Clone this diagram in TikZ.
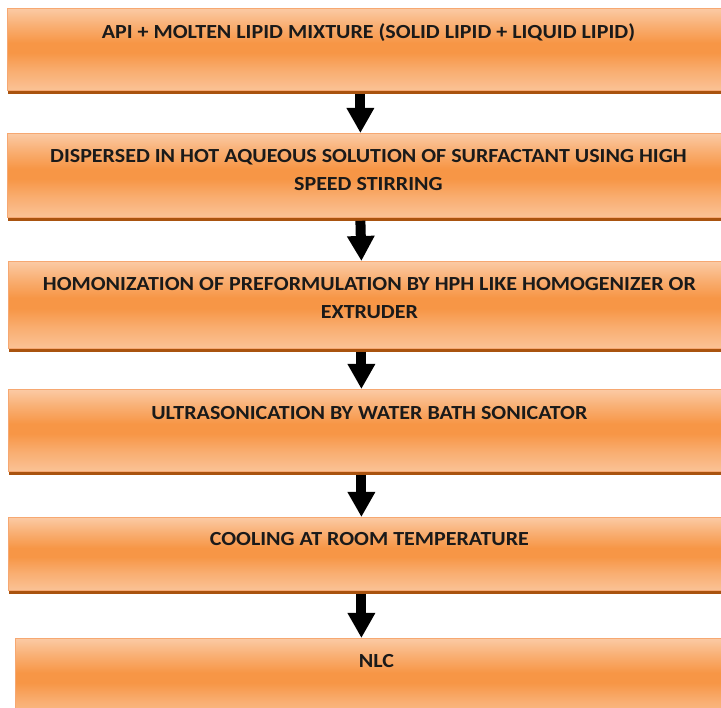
\documentclass[tikz,border=0pt]{standalone}
\usepackage{fontspec}
\setmainfont{Carlito}
\newfontfamily\boxfont[FakeStretch=1.1]{Carlito}
\usetikzlibrary{arrows.meta,calc}
\definecolor{orgdark}{HTML}{F79646}
\definecolor{orglight}{HTML}{FBCAA4}
\definecolor{orgedge}{HTML}{F6A872}
\definecolor{orgshadow}{HTML}{A9530F}
\definecolor{txt}{HTML}{1A1A1A}
\pgfdeclareverticalshading{boxshade}{100bp}{color(0bp)=(orglight); color(25bp)=(orglight!85!orgdark); color(37bp)=(orglight!45!orgdark); color(48bp)=(orgdark); color(54bp)=(orgdark); color(64bp)=(orglight!45!orgdark); color(75bp)=(orglight); color(100bp)=(orglight)}
\begin{document}
\begin{tikzpicture}[x=1pt,y=-1pt,
  box/.style={draw=orgedge, line width=0.8pt, shading=boxshade, rectangle, inner sep=0pt, anchor=north west, minimum width=722pt},
  lbl/.style={text=txt, font=\boxfont\fontsize{20}{28}\selectfont\bfseries, align=center, anchor=base, inner sep=0pt},
  blk/.style={draw=black, line width=10pt, -{Triangle[width=26pt,length=25pt]}}]
\useasboundingbox (0,0) rectangle (721,708);
\clip (0,0) rectangle (721,708);
\node[box, minimum height=82pt] (b1) at (7,8) {};
\node[box, minimum height=84pt] (b2) at (7,133) {};
\node[box, minimum height=87pt] (b3) at (8,261) {};
\node[box, minimum height=82pt] (b4) at (8,389) {};
\node[box, minimum height=73pt] (b5) at (8,517) {};
\node[box, minimum height=82pt] (b6) at (15,638) {};
\foreach \b in {b1,b2,b3,b4,b5}{
  \fill[orgshadow] ($(\b.south west)+(1,0)$) rectangle ($(\b.south east)+(0,3)$);
}
\node[lbl] (t1) at ($(b1.north)+(0,31)$) {API + MOLTEN LIPID MIXTURE (SOLID LIPID + LIQUID LIPID)};
\node[lbl] (t2) at ($(b2.north)+(0,58)$) {DISPERSED IN HOT AQUEOUS SOLUTION OF SURFACTANT USING HIGH\\SPEED STIRRING};
\node[lbl] (t3) at ($(b3.north)+(0,58)$) {HOMONIZATION OF PREFORMULATION BY HPH LIKE HOMOGENIZER OR\\EXTRUDER};
\node[lbl] (t4) at ($(b4.north)+(0,31)$) {ULTRASONICATION BY WATER BATH SONICATOR};
\node[lbl] (t5) at ($(b5.north)+(0,29)$) {COOLING AT ROOM TEMPERATURE};
\node[lbl] (t6) at ($(b6.north)+(0,29)$) {NLC};
\coordinate (a1s) at ($(b1.south)+(-8,3)$);
\coordinate (a1e) at ($(b2.north)+(-8,0)$);
\coordinate (a2s) at ($(b2.south)+(-8,3)$);
\coordinate (a2e) at ($(b3.north)+(-8,0)$);
\coordinate (a3s) at ($(b3.south)+(-8,3)$);
\coordinate (a3e) at ($(b4.north)+(-8,0)$);
\coordinate (a4s) at ($(b4.south)+(-8,3)$);
\coordinate (a4e) at ($(b5.north)+(-8,0)$);
\coordinate (a5s) at ($(b5.south)+(-8,3)$);
\coordinate (a5e) at ($(b6.north)+(-15,0)$);
\draw[blk] (a1s) -- (a1e);
\draw[blk] (a2s) -- (a2e);
\draw[blk] (a3s) -- (a3e);
\draw[blk] (a4s) -- (a4e);
\draw[blk] (a5s) -- (a5e);
\end{tikzpicture}
\end{document}
